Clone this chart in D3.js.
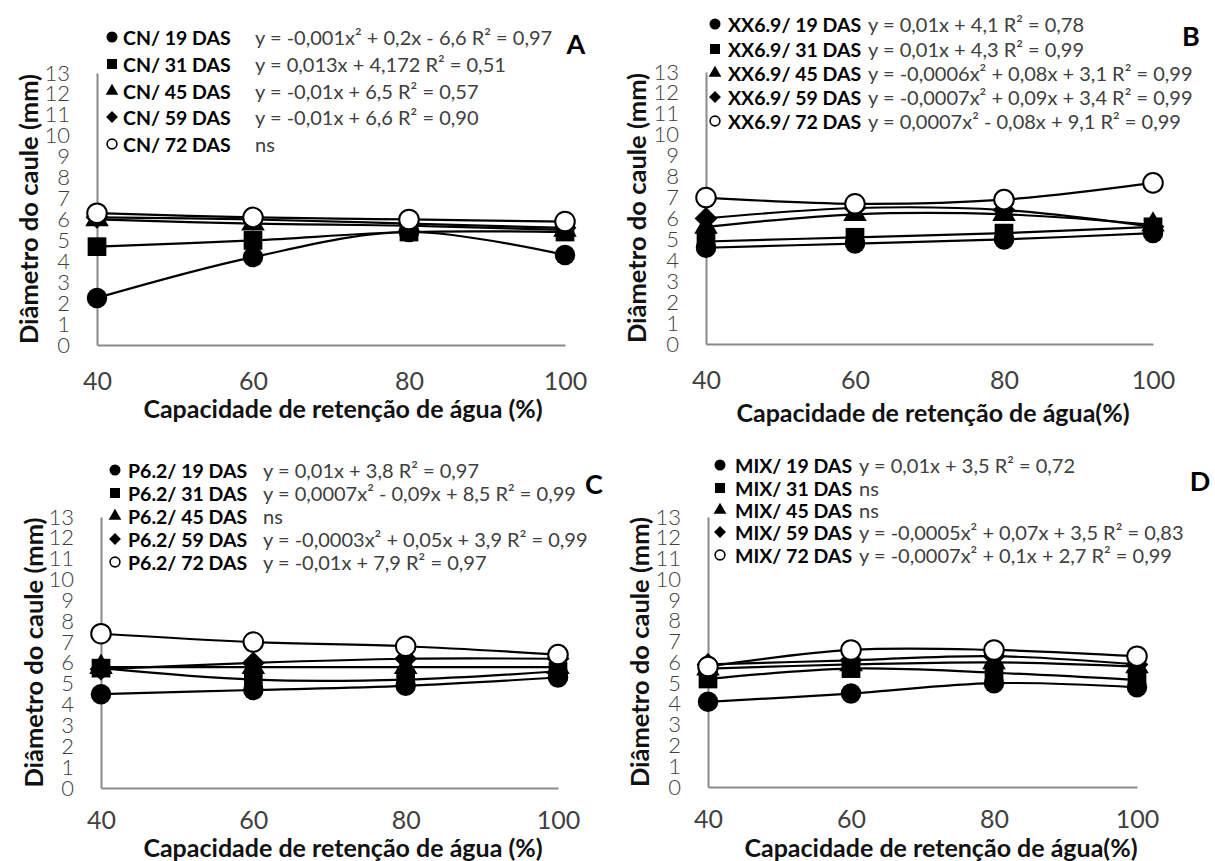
<!DOCTYPE html>
<html>
<head>
<meta charset="utf-8">
<script src="https://cdn.jsdelivr.net/npm/d3@7"></script>
<style>
  html, body { margin: 0; padding: 0; background: #fff; }
  svg { display: block; font-family: Lato, "Open Sans", "DejaVu Sans", sans-serif; }
</style>
</head>
<body>
<svg id="fig" width="1215" height="861"></svg>
<script>
// ---------- data ----------
const capacities = [40, 60, 80, 100];          // water holding capacity (%)
const yTickValues = d3.range(0, 14);            // 0 .. 13 mm
const samplingDays = ["19 DAS", "31 DAS", "45 DAS", "59 DAS", "72 DAS"];

// stem diameter (mm): one row per sampling date, one value per capacity
const cnDiameter = [
  [2.25, 4.2, 5.4, 4.3],
  [4.7, 5.0, 5.4, 5.4],
  [6.0, 5.8, 5.7, 5.5],
  [6.1, 6.0, 5.8, 5.6],
  [6.3, 6.1, 6.0, 5.9]
];
const xx69Diameter = [
  [4.6, 4.8, 5.0, 5.3],
  [4.9, 5.1, 5.3, 5.6],
  [5.6, 6.2, 6.2, 5.7],
  [6.0, 6.5, 6.4, 5.6],
  [7.0, 6.7, 6.9, 7.7]
];
const p62Diameter = [
  [4.5, 4.7, 4.9, 5.3],
  [5.75, 5.2, 5.2, 5.6],
  [5.8, 5.8, 5.8, 5.8],
  [5.7, 6.0, 6.2, 6.2],
  [7.4, 7.0, 6.8, 6.4]
];
const mixDiameter = [
  [4.1, 4.5, 5.0, 4.8],
  [5.2, 5.7, 5.5, 5.15],
  [5.7, 5.9, 6.0, 5.8],
  [5.9, 6.1, 6.3, 5.9],
  [5.8, 6.6, 6.6, 6.3]
];

// regression equations printed next to each legend entry
const cnEquations = [
  "y = -0,001x² + 0,2x - 6,6 R² = 0,97",
  "y = 0,013x + 4,172 R² = 0,51",
  "y = -0,01x + 6,5 R² = 0,57",
  "y = -0,01x + 6,6 R² = 0,90",
  "ns"
];
const xx69Equations = [
  "y = 0,01x + 4,1 R² = 0,78",
  "y = 0,01x + 4,3 R² = 0,99",
  "y = -0,0006x² + 0,08x + 3,1 R² = 0,99",
  "y = -0,0007x² + 0,09x + 3,4 R² = 0,99",
  "y = 0,0007x² - 0,08x + 9,1 R² = 0,99"
];
const p62Equations = [
  "y = 0,01x + 3,8 R² = 0,97",
  "y = 0,0007x² - 0,09x + 8,5 R² = 0,99",
  "ns",
  "y = -0,0003x² + 0,05x + 3,9 R² = 0,99",
  "y = -0,01x + 7,9 R² = 0,97"
];
const mixEquations = [
  "y = 0,01x + 3,5 R² = 0,72",
  "ns",
  "ns",
  "y = -0,0005x² + 0,07x + 3,5 R² = 0,83",
  "y = -0,0007x² + 0,1x + 2,7 R² = 0,99"
];

const yTitle = "Diâmetro do caule (mm)";

// ---------- layout ----------
const panels = [
  { letter: "A", treatment: "CN", values: cnDiameter, equations: cnEquations,
    plot: { left: 97, right: 565, top: 73, bottom: 345 }, tickPad: 27,
    legend: { marker: 112, text: 123, eq: 255, rows: [37, 64, 91, 117, 144] },
    letterPos: [576, 54], yTitleX: 28,
    xTitle: "Capacidade de retenção de água (%)", xTitleX: 343, xTitleY: 408 },
  { letter: "B", treatment: "XX6.9", values: xx69Diameter, equations: xx69Equations,
    plot: { left: 706, right: 1153, top: 72, bottom: 344 }, tickPad: 27,
    legend: { marker: 715, text: 728, eq: 868, rows: [24, 49, 73, 97, 121] },
    letterPos: [1191, 46], yTitleX: 636,
    xTitle: "Capacidade de retenção de água(%)", xTitleX: 933, xTitleY: 412 },
  { letter: "C", treatment: "P6.2", values: p62Diameter, equations: p62Equations,
    plot: { left: 101, right: 558, top: 517, bottom: 788 }, tickPad: 23,
    legend: { marker: 115, text: 128, eq: 263, rows: [470, 493, 516, 539, 562] },
    letterPos: [594, 494], yTitleX: 33,
    xTitle: "Capacidade de retenção de água (%)", xTitleX: 343, xTitleY: 847 },
  { letter: "D", treatment: "MIX", values: mixDiameter, equations: mixEquations,
    plot: { left: 708, right: 1137, top: 517, bottom: 787 }, tickPad: 23,
    legend: { marker: 720, text: 735, eq: 859, rows: [465, 488, 510, 532, 555] },
    letterPos: [1200, 491], yTitleX: 639,
    xTitle: "Capacidade de retenção de água(%)", xTitleX: 941, xTitleY: 847 }
];

// ---------- marker shapes ----------
const diamond = {
  draw(ctx, size) {
    const r = Math.sqrt(size / 2);
    ctx.moveTo(0, -r); ctx.lineTo(r, 0); ctx.lineTo(0, r); ctx.lineTo(-r, 0); ctx.closePath();
  }
};
const shapes = [d3.symbolCircle, d3.symbolSquare, d3.symbolTriangle, diamond, d3.symbolCircle];
const plotSizes = [330, 350, 240, 260, 300];
const legendSizes = [95, 100, 70, 70, 75];
const hollow = [false, false, false, false, true];

const svg = d3.select("#fig");
const AXIS_GREY = "#8a8a8a";
const LABEL_GREY = "#404040";

function drawPanel(p) {
  const g = svg.append("g").attr("class", "panel-" + p.letter);
  const x = d3.scaleLinear().domain([40, 100]).range([p.plot.left, p.plot.right]);
  const y = d3.scaleLinear().domain([0, 13]).range([p.plot.bottom, p.plot.top]);

  // y axis
  const gy = g.append("g")
    .attr("transform", `translate(${p.plot.left},0)`)
    .call(d3.axisLeft(y).tickValues(yTickValues).tickSize(0).tickSizeOuter(0).tickPadding(27));
  gy.select(".domain").attr("stroke", AXIS_GREY).attr("stroke-width", 2);
  gy.selectAll("text").attr("font-size", 22).attr("font-weight", 300)
    .attr("fill", LABEL_GREY).attr("font-family", "Lato, 'Open Sans', sans-serif");

  // x axis
  const gx = g.append("g")
    .attr("transform", `translate(0,${p.plot.bottom})`)
    .call(d3.axisBottom(x).tickValues(capacities).tickSize(0).tickSizeOuter(0).tickPadding(p.tickPad));
  gx.select(".domain").attr("stroke", AXIS_GREY).attr("stroke-width", 2);
  gx.selectAll("text").attr("font-size", 25).attr("font-weight", 400)
    .attr("fill", LABEL_GREY).attr("font-family", "Lato, 'Open Sans', sans-serif");

  // axis titles
  g.append("text")
    .attr("transform", `translate(${p.yTitleX},${(p.plot.top + p.plot.bottom) / 2}) rotate(-90)`)
    .attr("text-anchor", "middle").attr("dominant-baseline", "central")
    .attr("font-size", 25.5).attr("font-weight", 700).attr("fill", "#111")
    .text(yTitle);
  g.append("text")
    .attr("x", p.xTitleX).attr("y", p.xTitleY)
    .attr("text-anchor", "middle").attr("dominant-baseline", "central")
    .attr("font-size", 25).attr("font-weight", 700).attr("fill", "#111")
    .text(p.xTitle);

  // series: smoothed line then markers
  const line = d3.line()
    .x((d, j) => x(capacities[j]))
    .y(d => y(d))
    .curve(d3.curveCatmullRom.alpha(0.5));

  p.values.forEach((series, i) => {
    g.append("path")
      .attr("d", line(series))
      .attr("fill", "none").attr("stroke", "#000").attr("stroke-width", 2.2);
    g.selectAll(null).data(series).join("path")
      .attr("transform", (d, j) => `translate(${x(capacities[j])},${y(d)})`)
      .attr("d", d3.symbol(shapes[i], plotSizes[i]))
      .attr("fill", hollow[i] ? "#fff" : "#000")
      .attr("stroke", "#000").attr("stroke-width", hollow[i] ? 2 : 0);
  });

  // legend with regression equations
  samplingDays.forEach((day, i) => {
    const ry = p.legend.rows[i];
    g.append("path")
      .attr("transform", `translate(${p.legend.marker},${ry})`)
      .attr("d", d3.symbol(shapes[i], legendSizes[i]))
      .attr("fill", hollow[i] ? "#fff" : "#000")
      .attr("stroke", "#000").attr("stroke-width", hollow[i] ? 1.6 : 0);
    g.append("text")
      .attr("x", p.legend.text).attr("y", ry)
      .attr("dominant-baseline", "central")
      .attr("font-size", 19.5).attr("font-weight", 700).attr("fill", "#000")
      .text(`${p.treatment}/ ${day}`);
    g.append("text")
      .attr("x", p.legend.eq).attr("y", ry)
      .attr("dominant-baseline", "central")
      .attr("font-size", 20).attr("font-weight", 400).attr("fill", LABEL_GREY)
      .text(p.equations[i]);
  });

  // panel letter
  g.append("text")
    .attr("x", p.letterPos[0]).attr("y", p.letterPos[1])
    .attr("text-anchor", "middle")
    .attr("font-size", 27).attr("font-weight", 700).attr("fill", "#000")
    .text(p.letter);
}

panels.forEach(drawPanel);
</script>
</body>
</html>
